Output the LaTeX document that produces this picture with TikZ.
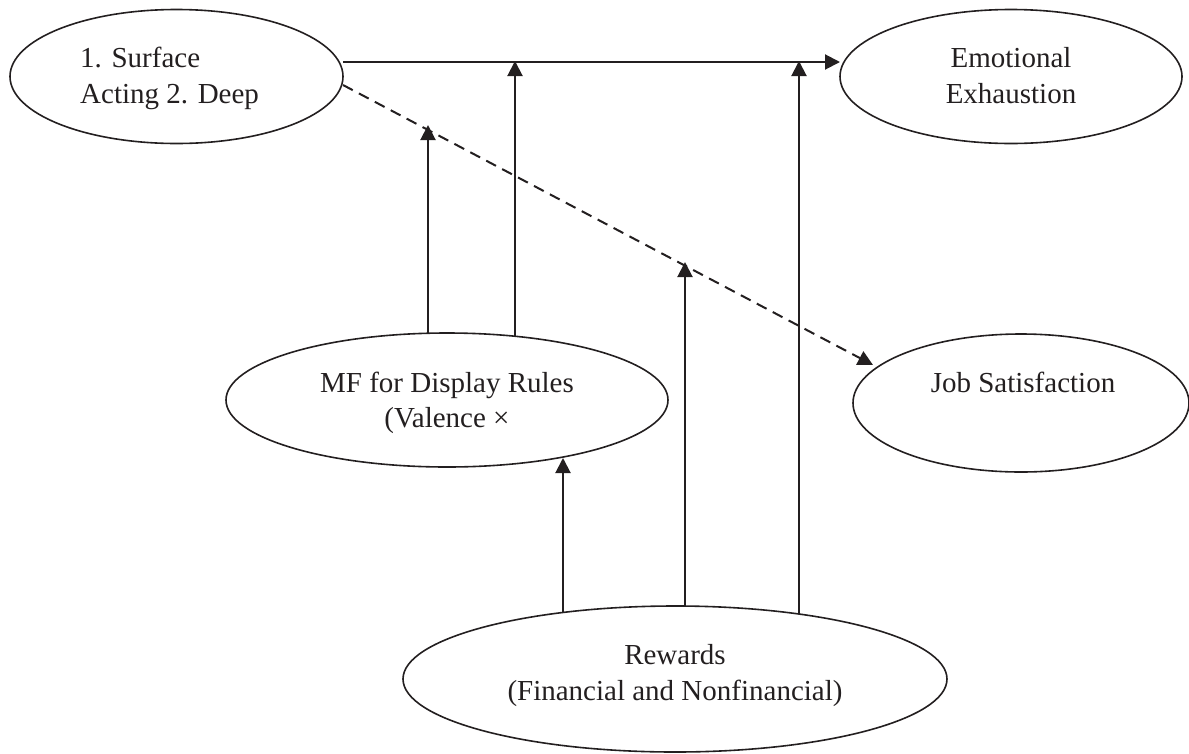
\documentclass[tikz,border=0pt]{standalone}
\usepackage{fontspec}
\setmainfont{Liberation Serif}
\usetikzlibrary{shapes.geometric,arrows.meta}
\definecolor{ink}{HTML}{231F20}
\tikzset{
  oval/.style={ellipse, draw=ink, line width=1.6pt, inner sep=0pt},
  lbl/.style={inner sep=0pt, text=ink, font=\fontsize{29}{36}\selectfont},
  conn/.style={draw=ink, line width=2pt, -{Triangle[length=15pt,width=15pt]}},
  dconn/.style={conn, dash pattern=on 11pt off 7pt}
}
\begin{document}
\begin{tikzpicture}[x=1pt,y=-1pt]
\useasboundingbox (0,0) rectangle (1189,753);
% ellipses
\node[oval, minimum width=333pt, minimum height=134pt] (sa) at (176.5,76.5) {};
\node[oval, minimum width=342pt, minimum height=134pt] (ee) at (1011,76.5) {};
\node[oval, minimum width=442pt, minimum height=134pt] (mf) at (447,400) {};
\node[oval, minimum width=336pt, minimum height=138pt] (js) at (1021,403) {};
\node[oval, minimum width=544pt, minimum height=146pt] (rw) at (675,679) {};
% texts
\node[lbl, anchor=base west] (t1) at (80,67) {1. Surface};
\node[lbl, anchor=base west] (t2) at (80,103) {Acting 2. Deep};
\node[lbl, anchor=base] (t3) at (1011,67) {Emotional};
\node[lbl, anchor=base] (t4) at (1011,103) {Exhaustion};
\node[lbl, anchor=base] (t5) at (447,392) {MF for Display Rules};
\node[lbl, anchor=base] (t6) at (447,427) {(Valence ×};
\node[lbl, anchor=base] (t7) at (1023,392) {Job Satisfaction};
\node[lbl, anchor=base] (t8) at (675,664) {Rewards};
\node[lbl, anchor=base] (t9) at (675,700) {(Financial and Nonfinancial)};
% connector end points
\coordinate (h1) at (343,62);
\coordinate (h2) at (840,62);
\coordinate (d1) at (343,85);
\coordinate (d2) at (873,365);
\coordinate (a1) at (428,333);
\coordinate (a1t) at (428,125);
\coordinate (a2) at (515,336);
\coordinate (a2t) at (515,61);
\coordinate (b1) at (563,613);
\coordinate (b1t) at (563,458);
\coordinate (b2) at (685,606);
\coordinate (b2t) at (685,262);
\coordinate (b3) at (799,614);
\coordinate (b3t) at (799,61);
% connectors
\draw[conn] (h1) -- (h2);
\draw[dconn] (d1) -- (d2);
\draw[conn] (a1) -- (a1t);
\draw[conn] (a2) -- (a2t);
\draw[conn] (b1) -- (b1t);
\draw[conn] (b2) -- (b2t);
\draw[conn] (b3) -- (b3t);
\end{tikzpicture}
\end{document}
